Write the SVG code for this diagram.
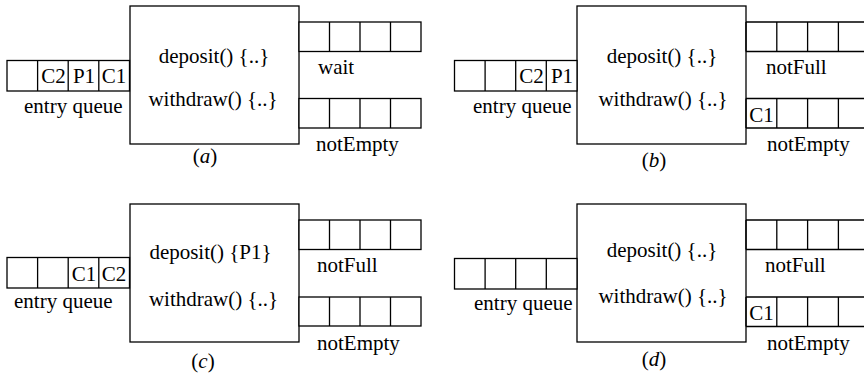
<svg xmlns="http://www.w3.org/2000/svg" width="864" height="374" viewBox="0 0 864 374" font-family="'Liberation Serif', 'Times New Roman', Tinos, 'DejaVu Serif', serif" font-size="21">
<style>
.b{fill:#fff;stroke:#000;stroke-width:1.3}
.c{fill:none;stroke:#000;stroke-width:1.3}
text{font-family:'Liberation Serif', 'Times New Roman', Tinos, 'DejaVu Serif', serif;font-size:21px;fill:#000}
.m{text-anchor:middle}
.i{font-style:italic}
</style>
<defs>
<g id="q4">
<rect class="b" x="0" y="0" width="122.5" height="30.5"/>
<line class="c" x1="30.6" y1="0" x2="30.6" y2="30.5"/>
<line class="c" x1="61.2" y1="0" x2="61.2" y2="30.5"/>
<line class="c" x1="91.8" y1="0" x2="91.8" y2="30.5"/>
</g>
<g id="q4r">
<path class="c" d="M0,0H130M0,29.5H130M0,0V29.5M30.8,0V29.5M61.6,0V29.5M92.4,0V29.5"/>
</g>
</defs>

<!-- Panel (a) -->
<g id="panel-a">
<g id="a-monitor">
<rect class="b" x="130" y="6" width="169" height="138"/>
<text class="m" x="214" y="63">deposit() {..}</text>
<text class="m" x="213" y="106">withdraw() {..}</text>
</g>
<g id="a-entry">
<use href="#q4" x="7" y="60.5"/>
<text class="m" x="53.5" y="83">C2</text>
<text class="m" x="84" y="83">P1</text>
<text class="m" x="114" y="83">C1</text>
<text x="24" y="113">entry queue</text>
</g>
<g id="a-wait">
<rect class="b" x="299" y="22" width="122" height="29.5"/>
<path class="c" d="M329.5,22V51.5M360,22V51.5M390.5,22V51.5"/>
<text x="318" y="74">wait</text>
</g>
<g id="a-notEmpty">
<rect class="b" x="299" y="98.5" width="122" height="29.5"/>
<path class="c" d="M329.5,98.5V128M360,98.5V128M390.5,98.5V128"/>
<text x="316" y="151">notEmpty</text>
</g>
<text class="m" x="205" y="163">(<tspan class="i">a</tspan>)</text>
</g>

<!-- Panel (b) -->
<g id="panel-b">
<g id="b-monitor">
<rect class="b" x="577" y="6" width="169" height="138"/>
<text class="m" x="662" y="63">deposit() {..}</text>
<text class="m" x="663" y="106">withdraw() {..}</text>
</g>
<g id="b-entry">
<use href="#q4" x="454.5" y="60.5"/>
<text class="m" x="531.5" y="83">C2</text>
<text class="m" x="562" y="83">P1</text>
<text x="473" y="113">entry queue</text>
</g>
<g id="b-notFull">
<use href="#q4r" x="746" y="22"/>
<text x="766" y="74">notFull</text>
</g>
<g id="b-notEmpty">
<use href="#q4r" x="746" y="98.5"/>
<text class="m" x="761.5" y="121.5">C1</text>
<text x="767" y="151">notEmpty</text>
</g>
<text class="m" x="654" y="167">(<tspan class="i">b</tspan>)</text>
</g>

<!-- Panel (c) -->
<g id="panel-c">
<g id="c-monitor">
<rect class="b" x="130" y="204" width="169" height="138"/>
<text class="m" x="210.5" y="259">deposit() {P1}</text>
<text class="m" x="213.5" y="306">withdraw() {..}</text>
</g>
<g id="c-entry">
<use href="#q4" x="7" y="257.5"/>
<text class="m" x="84" y="281">C1</text>
<text class="m" x="114" y="281">C2</text>
<text x="14" y="307.5">entry queue</text>
</g>
<g id="c-notFull">
<rect class="b" x="299" y="220" width="122" height="29.5"/>
<path class="c" d="M329.5,220V249.5M360,220V249.5M390.5,220V249.5"/>
<text x="317" y="272">notFull</text>
</g>
<g id="c-notEmpty">
<rect class="b" x="299" y="297" width="122" height="29"/>
<path class="c" d="M329.5,297V326M360,297V326M390.5,297V326"/>
<text x="317" y="350">notEmpty</text>
</g>
<text class="m" x="203" y="367.5">(<tspan class="i">c</tspan>)</text>
</g>

<!-- Panel (d) -->
<g id="panel-d">
<g id="d-monitor">
<rect class="b" x="577" y="204" width="169" height="138"/>
<text class="m" x="662" y="257">deposit() {..}</text>
<text class="m" x="663" y="303">withdraw() {..}</text>
</g>
<g id="d-entry">
<use href="#q4" x="454.5" y="258.5"/>
<text x="474" y="310">entry queue</text>
</g>
<g id="d-notFull">
<use href="#q4r" x="746" y="220"/>
<text x="765" y="272">notFull</text>
</g>
<g id="d-notEmpty">
<use href="#q4r" x="746" y="297"/>
<text class="m" x="761.5" y="320">C1</text>
<text x="767" y="350">notEmpty</text>
</g>
<text class="m" x="654" y="366">(<tspan class="i">d</tspan>)</text>
</g>

<g id="connectors"></g>
</svg>
